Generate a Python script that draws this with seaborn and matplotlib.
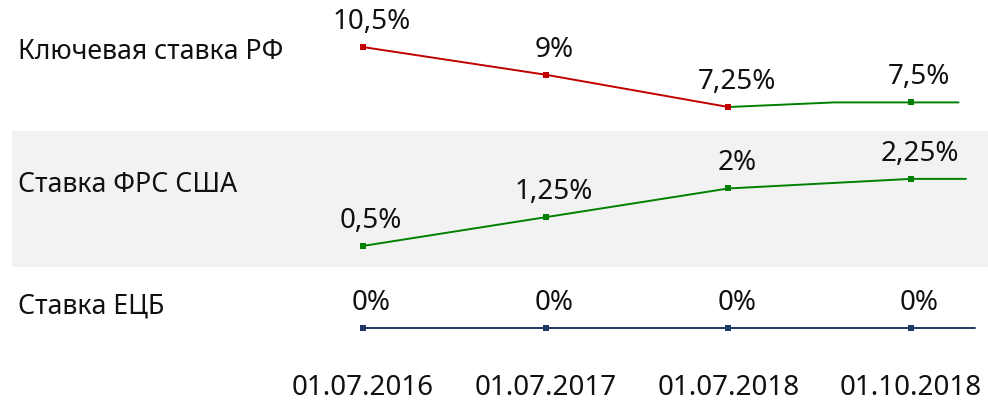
import matplotlib
matplotlib.use("Agg")
import matplotlib.pyplot as plt
import seaborn as sns
import pandas as pd

# Data
dates = ["01.07.2016", "01.07.2017", "01.07.2018", "01.10.2018"]
cbr_rates = [10.5, 9, 7.25, 7.5]     # Ключевая ставка РФ
fed_rates = [0.5, 1.25, 2, 2.25]     # Ставка ФРС США
ecb_rates = [0, 0, 0, 0]             # Ставка ЕЦБ
cbr_hike_pos = 2.58                  # rate raised to 7.5% between 01.07.2018 and 01.10.2018
tail_pos = [3.26, 3.30, 3.35]        # where each line stops on the right

row_names = ["Ключевая ставка РФ", "Ставка ФРС США", "Ставка ЕЦБ"]

RED = "#c00000"
GREEN = "#008000"
NAVY = "#1f3864"

sns.set_theme(style="white")
plt.rcParams['font.family'] = ['Noto Sans', 'DejaVu Sans']

fig = plt.figure(figsize=(9.88, 4.01), dpi=100)
W, H = 988, 401


def make_ax(top_px, bottom_px, face="white"):
    ax = fig.add_axes([12 / W, 1 - bottom_px / H, 976 / W, (bottom_px - top_px) / H])
    ax.set_facecolor(face)
    for s in ax.spines.values():
        s.set_visible(False)
    ax.set_xlim(-1.921, 3.421)
    ax.set_yticks([])
    ax.set_xticks([])
    return ax


def draw_line(ax, xs, ys, color):
    df = pd.DataFrame({"x": xs, "y": ys})
    sns.lineplot(data=df, x="x", y="y", ax=ax, color=color, linewidth=1.4,
                 sort=False, estimator=None)


def draw_points(ax, xs, ys, color):
    df = pd.DataFrame({"x": xs, "y": ys})
    sns.scatterplot(data=df, x="x", y="y", ax=ax, color=color, marker="s",
                    s=22, linewidth=0, zorder=3)


def label(ax, xs, ys):
    for x, y in zip(xs, ys):
        txt = (f"{y:g}").replace(".", ",") + "%"
        ax.annotate(txt, (x, y), xytext=(6, 18), textcoords="offset points",
                    ha="center", va="center", fontsize=20, color="#111111")


pos = list(range(len(dates)))

# top row: Russia
ax1 = make_ax(0, 131)
ax1.set_ylim(5.95, 13.05)
draw_line(ax1, pos[:3], cbr_rates[:3], RED)
draw_line(ax1, [pos[2], cbr_hike_pos, pos[3], tail_pos[0]],
          [cbr_rates[2], cbr_rates[3], cbr_rates[3], cbr_rates[3]], GREEN)
draw_points(ax1, pos[:3], cbr_rates[:3], RED)
draw_points(ax1, pos[3:], cbr_rates[3:], GREEN)
label(ax1, pos, cbr_rates)

# middle row: USA
ax2 = make_ax(131, 267, face="#f2f2f2")
ax2.set_ylim(-0.05, 3.5)
draw_line(ax2, pos + [tail_pos[1]], fed_rates + [fed_rates[-1]], GREEN)
draw_points(ax2, pos, fed_rates, GREEN)
label(ax2, pos, fed_rates)

# bottom row: ECB
ax3 = make_ax(267, 360)
ax3.set_ylim(-0.344, 0.656)
draw_line(ax3, pos + [tail_pos[2]], ecb_rates + [ecb_rates[-1]], NAVY)
draw_points(ax3, pos, ecb_rates, NAVY)
label(ax3, pos, ecb_rates)
ax3.set_xticks(pos)
ax3.set_xticklabels(dates, fontsize=20, color="#111111")
ax3.tick_params(axis="x", length=0, pad=10)

for ax in (ax1, ax2, ax3):
    ax.set_xlabel("")
    ax.set_ylabel("")

row_y = [52, 185, 307]
for name, y in zip(row_names, row_y):
    fig.text(18 / W, 1 - y / H, name, ha="left", va="center", fontsize=19.2,
             color="#111111")

fig.savefig("out.png", dpi=100)
